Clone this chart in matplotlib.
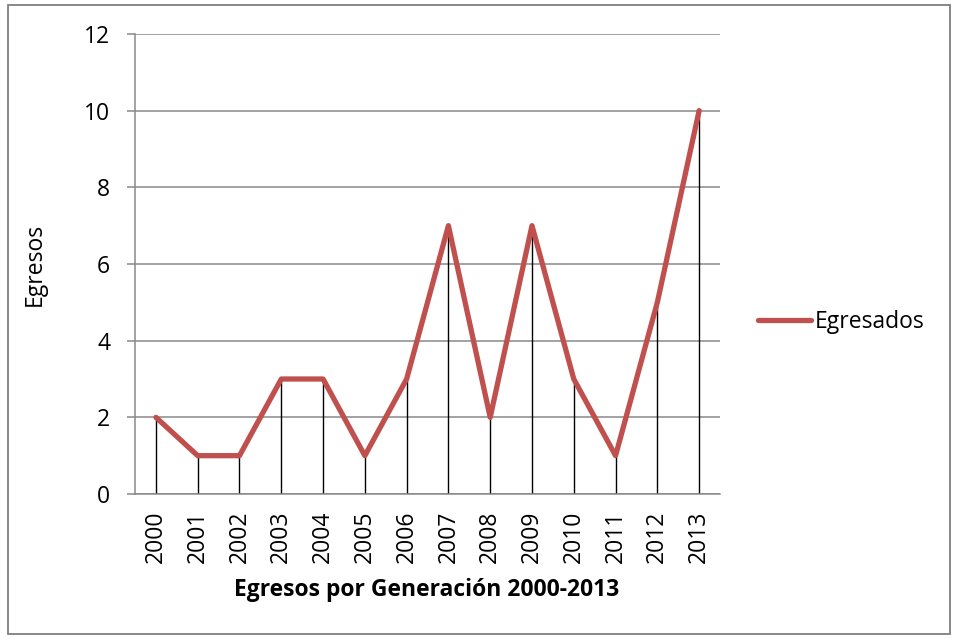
import matplotlib
matplotlib.use("Agg")
import matplotlib.pyplot as plt
from matplotlib.patches import Rectangle

# datos
anios = ["2000", "2001", "2002", "2003", "2004", "2005", "2006",
         "2007", "2008", "2009", "2010", "2011", "2012", "2013"]
egresados = [2, 1, 1, 3, 3, 1, 3, 7, 2, 7, 3, 1, 5, 10]

plt.rcParams["font.family"] = ["Open Sans", "DejaVu Sans"]
fs = 16.5

fig = plt.figure(figsize=(9.59, 6.39), dpi=100)
ax = fig.add_axes([0.1408, 0.2269, 0.6100, 0.7199])

x = list(range(len(anios)))
gris = "#898989"

# lineas de division (drop lines)
ax.vlines(x, 0, egresados, color="black", linewidth=1.0, zorder=2)
ax.plot(x, egresados, color="#C0504D", linewidth=3.8,
        solid_capstyle="round", solid_joinstyle="round",
        label="Egresados", zorder=3)

ax.set_xlim(-0.5, len(anios) - 0.5)
ax.set_ylim(0, 12)
ax.set_yticks(range(0, 13, 2))
ax.set_xticks(x)
ax.set_xticklabels(anios, rotation=90, fontsize=fs)
ax.tick_params(axis="y", labelsize=fs, length=6, color=gris, width=1.1, pad=12)
ax.tick_params(axis="x", length=0, pad=12)

ax.yaxis.grid(True, color=gris, linewidth=1.1)
ax.set_axisbelow(True)
for s in ("top", "right"):
    ax.spines[s].set_visible(False)
ax.spines["left"].set_color(gris)
ax.spines["left"].set_linewidth(1.1)
ax.spines["bottom"].set_color(gris)
ax.spines["bottom"].set_linewidth(1.1)

fig.text(35 / 959, 1 - 264 / 639, "Egresos", rotation=90, fontsize=fs,
         ha="center", va="center")
fig.text(427 / 959, 1 - 590 / 639, "Egresos por Generación 2000-2013",
         fontsize=fs, fontweight="bold", ha="center", va="center")

ax.legend(loc="center left", bbox_to_anchor=(1.03, 0.374), frameon=False,
          fontsize=fs, handlelength=2.3, handletextpad=0.15)

# borde del grafico
fig.patches.append(Rectangle((8 / 959, 5 / 639), 942 / 959, 629 / 639,
                             transform=fig.transFigure, fill=False,
                             edgecolor="#7f7f7f", linewidth=1.3))

fig.savefig("out.png", dpi=100, facecolor="white")
